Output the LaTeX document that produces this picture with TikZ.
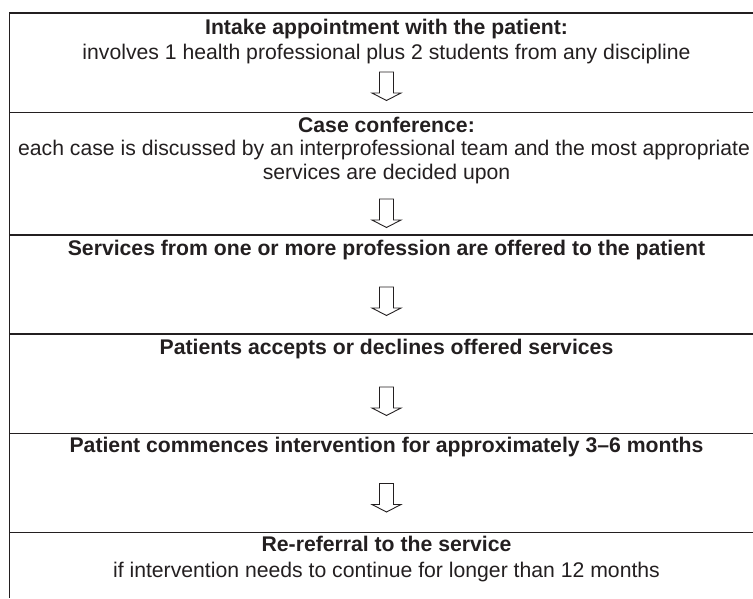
\documentclass[tikz,border=0pt]{standalone}
\usepackage{fontspec}
\setmainfont{Liberation Sans}
\definecolor{ink}{RGB}{35,31,32}
\begin{document}
\begin{tikzpicture}[x=1pt,y=-1pt,
  rule/.style={line width=1.6pt, draw=ink},
  txt/.style={anchor=base, inner sep=0pt, text=ink, font=\fontsize{21.2}{25}\selectfont},
  hd/.style={anchor=base, inner sep=0pt, text=ink, font=\fontsize{21.2}{25}\selectfont\bfseries},
  blockarrow/.style={draw=ink, line width=0.9pt, fill=white, line join=miter}]
\useasboundingbox (0,0) rectangle (753,598);
% frame and separators
\coordinate (tl) at (9.5,13);
\coordinate (tr) at (753,13);
\coordinate (bl) at (9.5,598);
\draw[rule] (tr) -- (tl) -- (bl);
\foreach \yy/\nm in {112.5/s1,235/s2,334/s3,433.5/s4,532.5/s5}{
  \coordinate (\nm l) at (9.5,\yy);
  \coordinate (\nm r) at (753,\yy);
  \draw[rule] (\nm l) -- (\nm r);
}
% texts
\node[hd]  (b1a) at (386.5,34) {Intake appointment with the patient:};
\node[txt] (b1b) at (386.5,59) {involves 1 health professional plus 2 students from any discipline};
\node[hd]  (b2a) at (386.5,132) {Case conference:};
\node[txt] (b2b) at (384,155.5) {each case is discussed by an interprofessional team and the most appropriate};
\node[txt] (b2c) at (386.5,179) {services are decided upon};
\node[hd]  (b3a) at (386.5,255) {Services from one or more profession are offered to the patient};
\node[hd]  (b4a) at (386.5,354) {Patients accepts or declines offered services};
\node[hd]  (b5a) at (386.5,452.5) {Patient commences intervention for approximately 3--6 months};
\node[hd]  (b6a) at (386.5,551.5) {Re-referral to the service};
\node[txt] (b6b) at (386.5,577) {if intervention needs to continue for longer than 12 months};
% block arrows
\foreach \ty/\nm in {72/a1,199/a2,287/a3,387/a4,483.5/a5}{
  \coordinate (\nm) at (386.5,\ty);
  \draw[blockarrow] (\nm) ++(-7,0) -- ++(0,21) -- ++(-7.5,0) -- ++(14.5,7.5)
     -- ++(14.5,-7.5) -- ++(-7.5,0) -- ++(0,-21) -- cycle;
}
\end{tikzpicture}
\end{document}
